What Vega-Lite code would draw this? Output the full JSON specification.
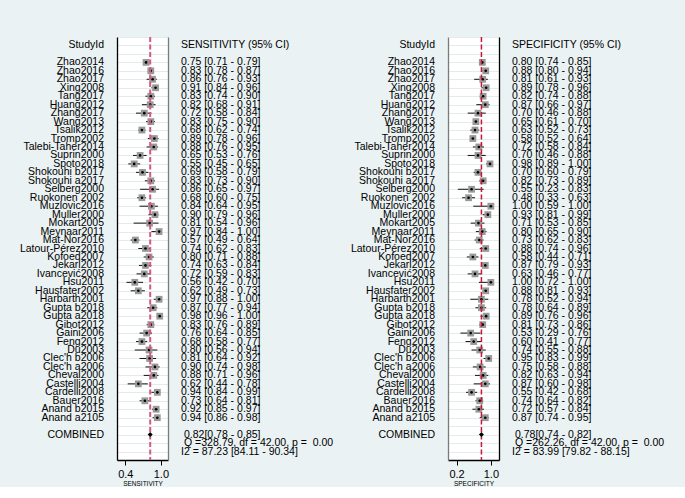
{
  "$schema": "https://vega.github.io/schema/vega-lite/v6.json",
  "background": "#eaf2f3",
  "padding": {"left": 0, "top": 35, "right": 0, "bottom": 0},
  "spacing": 13,
  "bounds": "flush",
  "config": {
    "view": {"stroke": null},
    "text": {"font": "Liberation Sans", "fontSize": 10.5, "color": "#000000"},
    "axis": {"labelFont": "Liberation Sans", "titleFont": "Liberation Sans"}
  },
  "datasets": {
    "studies": [
      {"StudyId": "Zhao2014", "sens": 0.75, "sensLo": 0.71, "sensHi": 0.79, "sensTxt": "0.75 [0.71 - 0.79]", "spec": 0.80, "specLo": 0.74, "specHi": 0.85, "specTxt": "0.80 [0.74 - 0.85]"},
      {"StudyId": "Zhao2016", "sens": 0.83, "sensLo": 0.78, "sensHi": 0.87, "sensTxt": "0.83 [0.78 - 0.87]", "spec": 0.88, "specLo": 0.80, "specHi": 0.94, "specTxt": "0.88 [0.80 - 0.94]"},
      {"StudyId": "Zhao2017", "sens": 0.86, "sensLo": 0.76, "sensHi": 0.93, "sensTxt": "0.86 [0.76 - 0.93]", "spec": 0.81, "specLo": 0.61, "specHi": 0.93, "specTxt": "0.81 [0.61 - 0.93]"},
      {"StudyId": "Xing2008", "sens": 0.91, "sensLo": 0.84, "sensHi": 0.96, "sensTxt": "0.91 [0.84 - 0.96]", "spec": 0.89, "specLo": 0.78, "specHi": 0.96, "specTxt": "0.89 [0.78 - 0.96]"},
      {"StudyId": "Tang2017", "sens": 0.83, "sensLo": 0.74, "sensHi": 0.90, "sensTxt": "0.83 [0.74 - 0.90]", "spec": 0.82, "specLo": 0.74, "specHi": 0.88, "specTxt": "0.82 [0.74 - 0.88]"},
      {"StudyId": "Huang2012", "sens": 0.82, "sensLo": 0.68, "sensHi": 0.91, "sensTxt": "0.82 [0.68 - 0.91]", "spec": 0.87, "specLo": 0.66, "specHi": 0.97, "specTxt": "0.87 [0.66 - 0.97]"},
      {"StudyId": "Zhang2017", "sens": 0.72, "sensLo": 0.58, "sensHi": 0.84, "sensTxt": "0.72 [0.58 - 0.84]", "spec": 0.70, "specLo": 0.46, "specHi": 0.88, "specTxt": "0.70 [0.46 - 0.88]"},
      {"StudyId": "Wang2013", "sens": 0.83, "sensLo": 0.75, "sensHi": 0.90, "sensTxt": "0.83 [0.75 - 0.90]", "spec": 0.65, "specLo": 0.61, "specHi": 0.70, "specTxt": "0.65 [0.61 - 0.70]"},
      {"StudyId": "Tsalik2012", "sens": 0.68, "sensLo": 0.62, "sensHi": 0.74, "sensTxt": "0.68 [0.62 - 0.74]", "spec": 0.63, "specLo": 0.52, "specHi": 0.73, "specTxt": "0.63 [0.52 - 0.73]"},
      {"StudyId": "Tromp2002", "sens": 0.89, "sensLo": 0.78, "sensHi": 0.96, "sensTxt": "0.89 [0.78 - 0.96]", "spec": 0.58, "specLo": 0.52, "specHi": 0.64, "specTxt": "0.58 [0.52 - 0.64]"},
      {"StudyId": "Talebi-Taher2014", "sens": 0.88, "sensLo": 0.76, "sensHi": 0.95, "sensTxt": "0.88 [0.76 - 0.95]", "spec": 0.72, "specLo": 0.58, "specHi": 0.84, "specTxt": "0.72 [0.58 - 0.84]"},
      {"StudyId": "Suprin2000", "sens": 0.65, "sensLo": 0.53, "sensHi": 0.76, "sensTxt": "0.65 [0.53 - 0.76]", "spec": 0.70, "specLo": 0.46, "specHi": 0.88, "specTxt": "0.70 [0.46 - 0.88]"},
      {"StudyId": "Spoto2018", "sens": 0.55, "sensLo": 0.45, "sensHi": 0.65, "sensTxt": "0.55 [0.45 - 0.65]", "spec": 0.98, "specLo": 0.89, "specHi": 1.00, "specTxt": "0.98 [0.89 - 1.00]"},
      {"StudyId": "Shokouhi b2017", "sens": 0.69, "sensLo": 0.58, "sensHi": 0.79, "sensTxt": "0.69 [0.58 - 0.79]", "spec": 0.70, "specLo": 0.60, "specHi": 0.79, "specTxt": "0.70 [0.60 - 0.79]"},
      {"StudyId": "Shokouhi a2017", "sens": 0.83, "sensLo": 0.73, "sensHi": 0.90, "sensTxt": "0.83 [0.73 - 0.90]", "spec": 0.82, "specLo": 0.73, "specHi": 0.89, "specTxt": "0.82 [0.73 - 0.89]"},
      {"StudyId": "Selberg2000", "sens": 0.86, "sensLo": 0.65, "sensHi": 0.97, "sensTxt": "0.86 [0.65 - 0.97]", "spec": 0.55, "specLo": 0.23, "specHi": 0.83, "specTxt": "0.55 [0.23 - 0.83]"},
      {"StudyId": "Ruokonen 2002", "sens": 0.68, "sensLo": 0.60, "sensHi": 0.75, "sensTxt": "0.68 [0.60 - 0.75]", "spec": 0.48, "specLo": 0.33, "specHi": 0.63, "specTxt": "0.48 [0.33 - 0.63]"},
      {"StudyId": "Muzlovic2016", "sens": 0.84, "sensLo": 0.64, "sensHi": 0.95, "sensTxt": "0.84 [0.64 - 0.95]", "spec": 1.00, "specLo": 0.59, "specHi": 1.00, "specTxt": "1.00 [0.59 - 1.00]"},
      {"StudyId": "Muller2000", "sens": 0.90, "sensLo": 0.79, "sensHi": 0.96, "sensTxt": "0.90 [0.79 - 0.96]", "spec": 0.93, "specLo": 0.81, "specHi": 0.99, "specTxt": "0.93 [0.81 - 0.99]"},
      {"StudyId": "Mokart2005", "sens": 0.81, "sensLo": 0.54, "sensHi": 0.96, "sensTxt": "0.81 [0.54 - 0.96]", "spec": 0.71, "specLo": 0.53, "specHi": 0.85, "specTxt": "0.71 [0.53 - 0.85]"},
      {"StudyId": "Meynaar2011", "sens": 0.97, "sensLo": 0.84, "sensHi": 1.00, "sensTxt": "0.97 [0.84 - 1.00]", "spec": 0.80, "specLo": 0.65, "specHi": 0.90, "specTxt": "0.80 [0.65 - 0.90]"},
      {"StudyId": "Mat-Nor2016", "sens": 0.57, "sensLo": 0.49, "sensHi": 0.64, "sensTxt": "0.57 [0.49 - 0.64]", "spec": 0.73, "specLo": 0.62, "specHi": 0.83, "specTxt": "0.73 [0.62 - 0.83]"},
      {"StudyId": "Latour-Pérez2010", "sens": 0.74, "sensLo": 0.62, "sensHi": 0.83, "sensTxt": "0.74 [0.62 - 0.83]", "spec": 0.88, "specLo": 0.74, "specHi": 0.96, "specTxt": "0.88 [0.74 - 0.96]"},
      {"StudyId": "Kofoed2007", "sens": 0.80, "sensLo": 0.71, "sensHi": 0.88, "sensTxt": "0.80 [0.71 - 0.88]", "spec": 0.58, "specLo": 0.44, "specHi": 0.71, "specTxt": "0.58 [0.44 - 0.71]"},
      {"StudyId": "Jekarl2012", "sens": 0.74, "sensLo": 0.63, "sensHi": 0.84, "sensTxt": "0.74 [0.63 - 0.84]", "spec": 0.87, "specLo": 0.79, "specHi": 0.93, "specTxt": "0.87 [0.79 - 0.93]"},
      {"StudyId": "Ivancević2008", "sens": 0.72, "sensLo": 0.59, "sensHi": 0.83, "sensTxt": "0.72 [0.59 - 0.83]", "spec": 0.63, "specLo": 0.46, "specHi": 0.77, "specTxt": "0.63 [0.46 - 0.77]"},
      {"StudyId": "Hsu2011", "sens": 0.56, "sensLo": 0.42, "sensHi": 0.70, "sensTxt": "0.56 [0.42 - 0.70]", "spec": 1.00, "specLo": 0.72, "specHi": 1.00, "specTxt": "1.00 [0.72 - 1.00]"},
      {"StudyId": "Hausfater2002", "sens": 0.62, "sensLo": 0.49, "sensHi": 0.73, "sensTxt": "0.62 [0.49 - 0.73]", "spec": 0.88, "specLo": 0.81, "specHi": 0.93, "specTxt": "0.88 [0.81 - 0.93]"},
      {"StudyId": "Harbarth2001", "sens": 0.97, "sensLo": 0.88, "sensHi": 1.00, "sensTxt": "0.97 [0.88 - 1.00]", "spec": 0.78, "specLo": 0.52, "specHi": 0.94, "specTxt": "0.78 [0.52 - 0.94]"},
      {"StudyId": "Gupta b2018", "sens": 0.87, "sensLo": 0.77, "sensHi": 0.94, "sensTxt": "0.87 [0.77 - 0.94]", "spec": 0.78, "specLo": 0.64, "specHi": 0.89, "specTxt": "0.78 [0.64 - 0.89]"},
      {"StudyId": "Gupta a2018", "sens": 0.98, "sensLo": 0.96, "sensHi": 1.00, "sensTxt": "0.98 [0.96 - 1.00]", "spec": 0.89, "specLo": 0.76, "specHi": 0.96, "specTxt": "0.89 [0.76 - 0.96]"},
      {"StudyId": "Gibot2012", "sens": 0.83, "sensLo": 0.76, "sensHi": 0.89, "sensTxt": "0.83 [0.76 - 0.89]", "spec": 0.81, "specLo": 0.73, "specHi": 0.86, "specTxt": "0.81 [0.73 - 0.86]"},
      {"StudyId": "Gaini2006", "sens": 0.76, "sensLo": 0.64, "sensHi": 0.85, "sensTxt": "0.76 [0.64 - 0.85]", "spec": 0.53, "specLo": 0.29, "specHi": 0.76, "specTxt": "0.53 [0.29 - 0.76]"},
      {"StudyId": "Feng2012", "sens": 0.68, "sensLo": 0.58, "sensHi": 0.77, "sensTxt": "0.68 [0.58 - 0.77]", "spec": 0.60, "specLo": 0.41, "specHi": 0.77, "specTxt": "0.60 [0.41 - 0.77]"},
      {"StudyId": "Du2003", "sens": 0.80, "sensLo": 0.56, "sensHi": 0.94, "sensTxt": "0.80 [0.56 - 0.94]", "spec": 0.74, "specLo": 0.55, "specHi": 0.88, "specTxt": "0.74 [0.55 - 0.88]"},
      {"StudyId": "Clec'h b2006", "sens": 0.81, "sensLo": 0.64, "sensHi": 0.92, "sensTxt": "0.81 [0.64 - 0.92]", "spec": 0.95, "specLo": 0.83, "specHi": 0.99, "specTxt": "0.95 [0.83 - 0.99]"},
      {"StudyId": "Clec'h a2006", "sens": 0.90, "sensLo": 0.74, "sensHi": 0.98, "sensTxt": "0.90 [0.74 - 0.98]", "spec": 0.75, "specLo": 0.58, "specHi": 0.88, "specTxt": "0.75 [0.58 - 0.88]"},
      {"StudyId": "Cheval2000", "sens": 0.88, "sensLo": 0.71, "sensHi": 0.96, "sensTxt": "0.88 [0.71 - 0.96]", "spec": 0.82, "specLo": 0.63, "specHi": 0.94, "specTxt": "0.82 [0.63 - 0.94]"},
      {"StudyId": "Castelli2004", "sens": 0.62, "sensLo": 0.44, "sensHi": 0.78, "sensTxt": "0.62 [0.44 - 0.78]", "spec": 0.87, "specLo": 0.60, "specHi": 0.98, "specTxt": "0.87 [0.60 - 0.98]"},
      {"StudyId": "Cardelli2008", "sens": 0.94, "sensLo": 0.84, "sensHi": 0.99, "sensTxt": "0.94 [0.84 - 0.99]", "spec": 0.55, "specLo": 0.42, "specHi": 0.68, "specTxt": "0.55 [0.42 - 0.68]"},
      {"StudyId": "Bauer2016", "sens": 0.73, "sensLo": 0.64, "sensHi": 0.81, "sensTxt": "0.73 [0.64 - 0.81]", "spec": 0.74, "specLo": 0.64, "specHi": 0.82, "specTxt": "0.74 [0.64 - 0.82]"},
      {"StudyId": "Anand b2015", "sens": 0.92, "sensLo": 0.85, "sensHi": 0.97, "sensTxt": "0.92 [0.85 - 0.97]", "spec": 0.72, "specLo": 0.57, "specHi": 0.84, "specTxt": "0.72 [0.57 - 0.84]"},
      {"StudyId": "Anand a2105", "sens": 0.94, "sensLo": 0.86, "sensHi": 0.98, "sensTxt": "0.94 [0.86 - 0.98]", "spec": 0.87, "specLo": 0.74, "specHi": 0.95, "specTxt": "0.87 [0.74 - 0.95]"}
    ],
    "extra": [
      {"StudyId": "StudyId", "left": "StudyId", "sensTxt": "SENSITIVITY (95% CI)", "specTxt": "SPECIFICITY (95% CI)", "indent": 0},
      {"StudyId": "COMBINED", "left": "COMBINED", "sensTxt": "0.82[0.78 - 0.85]", "specTxt": "0.78[0.74 - 0.82]", "indent": 1},
      {"StudyId": "Q", "left": "", "sensTxt": "Q =328.79, df = 42.00, p = \u00a00.00", "specTxt": "Q =262.26, df = 42.00, p = \u00a00.00", "indent": 1},
      {"StudyId": "I2", "left": "", "sensTxt": "I2 = 87.23 [84.11 - 90.34]", "specTxt": "I2 = 83.99 [79.82 - 88.15]", "indent": 0}
    ],
    "pooled": [
      {"StudyId": "COMBINED", "sens": 0.82, "sensLo": 0.78, "sensHi": 0.85, "spec": 0.78, "specLo": 0.74, "specHi": 0.82}
    ]
  },
  "resolve": {"scale": {"x": "independent", "y": "independent"}},
  "hconcat": [
    {
      "width": 104, "height": 423,
      "encoding": {"y": {"field": "StudyId", "type": "nominal", "axis": null, "scale": {"type": "point", "padding": 0, "domain": ["_top","StudyId","_gap1","Zhao2014","Zhao2016","Zhao2017","Xing2008","Tang2017","Huang2012","Zhang2017","Wang2013","Tsalik2012","Tromp2002","Talebi-Taher2014","Suprin2000","Spoto2018","Shokouhi b2017","Shokouhi a2017","Selberg2000","Ruokonen 2002","Muzlovic2016","Muller2000","Mokart2005","Meynaar2011","Mat-Nor2016","Latour-Pérez2010","Kofoed2007","Jekarl2012","Ivancević2008","Hsu2011","Hausfater2002","Harbarth2001","Gupta b2018","Gupta a2018","Gibot2012","Gaini2006","Feng2012","Du2003","Clec'h b2006","Clec'h a2006","Cheval2000","Castelli2004","Cardelli2008","Bauer2016","Anand b2015","Anand a2105","_gap2","COMBINED","Q","I2","_bottom"]}}},
      "layer": [
        {"data": {"name": "studies"}, "mark": {"type": "text", "align": "right", "baseline": "middle"}, "encoding": {"x": {"value": "width"}, "text": {"field": "StudyId"}}},
        {"data": {"name": "extra"}, "mark": {"type": "text", "align": "right", "baseline": "middle"}, "encoding": {"x": {"value": "width"}, "text": {"field": "left"}}}
      ]
    },
    {
      "width": 51, "height": 423,
      "view": {"fill": "white", "stroke": null},
      "resolve": {"axis": {"y": "independent"}},
      "encoding": {"y": {"field": "StudyId", "type": "nominal", "axis": null, "scale": {"type": "point", "padding": 0, "domain": ["_top","StudyId","_gap1","Zhao2014","Zhao2016","Zhao2017","Xing2008","Tang2017","Huang2012","Zhang2017","Wang2013","Tsalik2012","Tromp2002","Talebi-Taher2014","Suprin2000","Spoto2018","Shokouhi b2017","Shokouhi a2017","Selberg2000","Ruokonen 2002","Muzlovic2016","Muller2000","Mokart2005","Meynaar2011","Mat-Nor2016","Latour-Pérez2010","Kofoed2007","Jekarl2012","Ivancević2008","Hsu2011","Hausfater2002","Harbarth2001","Gupta b2018","Gupta a2018","Gibot2012","Gaini2006","Feng2012","Du2003","Clec'h b2006","Clec'h a2006","Cheval2000","Castelli2004","Cardelli2008","Bauer2016","Anand b2015","Anand a2105","_gap2","COMBINED","Q","I2","_bottom"]}}},
      "layer": [
        {"data": {"name": "studies"}, "mark": {"type": "rule", "color": "#111111", "strokeWidth": 1},
         "encoding": {
           "y": {"field": "StudyId", "type": "nominal", "axis": {"orient": "left", "labels": false, "ticks": false, "title": null, "grid": true, "gridColor": "#e2ebed", "gridWidth": 1, "domainColor": "#000000", "domainWidth": 1.3}},
           "x": {"field": "sensLo", "type": "quantitative", "scale": {"domain": [0.26, 1.12], "nice": false, "zero": false},
                 "axis": {"values": [0.4, 1.0], "format": ".1f", "title": "SENSITIVITY", "titleFontSize": 6.5, "titleFontWeight": "normal", "titleColor": "#000000", "labelFontSize": 11, "labelColor": "#000000", "tickColor": "#000000", "domainColor": "#000000", "domainWidth": 1.3, "tickSize": 5, "labelPadding": 3, "titlePadding": 1, "grid": false, "labelFlush": false, "labelOverlap": false}},
           "x2": {"field": "sensHi"}}},
        {"data": {"name": "studies"}, "mark": {"type": "point", "shape": "square", "filled": true, "color": "#999999", "size": 46, "opacity": 1}, "encoding": {"x": {"field": "sens", "type": "quantitative"}}},
        {"data": {"name": "studies"}, "mark": {"type": "circle", "color": "#000000", "size": 7, "opacity": 1}, "encoding": {"x": {"field": "sens", "type": "quantitative"}}},
        {"data": {"name": "pooled"}, "mark": {"type": "rule", "color": "#d6587f", "strokeWidth": 2, "strokeDash": [5, 2.5]}, "encoding": {"x": {"field": "sens", "type": "quantitative"}, "y": {"datum": "_top", "type": "nominal", "axis": null}, "y2": {"datum": "_bottom"}}},
        {"data": {"name": "pooled"}, "mark": {"type": "point", "shape": "diamond", "filled": true, "color": "#000000", "size": 25, "opacity": 1},
         "encoding": {"x": {"field": "sens", "type": "quantitative"},
           "y": {"field": "StudyId", "type": "nominal", "axis": {"orient": "right", "labels": false, "ticks": false, "title": null, "grid": false, "domainColor": "#7a7a7a", "domainWidth": 1.3}}}}
      ]
    },
    {
      "width": 150, "height": 423,
      "encoding": {"y": {"field": "StudyId", "type": "nominal", "axis": null, "scale": {"type": "point", "padding": 0, "domain": ["_top","StudyId","_gap1","Zhao2014","Zhao2016","Zhao2017","Xing2008","Tang2017","Huang2012","Zhang2017","Wang2013","Tsalik2012","Tromp2002","Talebi-Taher2014","Suprin2000","Spoto2018","Shokouhi b2017","Shokouhi a2017","Selberg2000","Ruokonen 2002","Muzlovic2016","Muller2000","Mokart2005","Meynaar2011","Mat-Nor2016","Latour-Pérez2010","Kofoed2007","Jekarl2012","Ivancević2008","Hsu2011","Hausfater2002","Harbarth2001","Gupta b2018","Gupta a2018","Gibot2012","Gaini2006","Feng2012","Du2003","Clec'h b2006","Clec'h a2006","Cheval2000","Castelli2004","Cardelli2008","Bauer2016","Anand b2015","Anand a2105","_gap2","COMBINED","Q","I2","_bottom"]}}},
      "layer": [
        {"data": {"name": "studies"}, "mark": {"type": "text", "align": "left", "baseline": "middle"}, "encoding": {"x": {"value": 0}, "text": {"field": "sensTxt"}}},
        {"data": {"name": "extra"}, "transform": [{"filter": "datum.indent == 0"}], "mark": {"type": "text", "align": "left", "baseline": "middle"}, "encoding": {"x": {"value": 0}, "text": {"field": "sensTxt"}}},
        {"data": {"name": "extra"}, "transform": [{"filter": "datum.indent == 1"}], "mark": {"type": "text", "align": "left", "baseline": "middle", "dx": 3}, "encoding": {"x": {"value": 0}, "text": {"field": "sensTxt"}}}
      ]
    },
    {
      "width": 91, "height": 423,
      "encoding": {"y": {"field": "StudyId", "type": "nominal", "axis": null, "scale": {"type": "point", "padding": 0, "domain": ["_top","StudyId","_gap1","Zhao2014","Zhao2016","Zhao2017","Xing2008","Tang2017","Huang2012","Zhang2017","Wang2013","Tsalik2012","Tromp2002","Talebi-Taher2014","Suprin2000","Spoto2018","Shokouhi b2017","Shokouhi a2017","Selberg2000","Ruokonen 2002","Muzlovic2016","Muller2000","Mokart2005","Meynaar2011","Mat-Nor2016","Latour-Pérez2010","Kofoed2007","Jekarl2012","Ivancević2008","Hsu2011","Hausfater2002","Harbarth2001","Gupta b2018","Gupta a2018","Gibot2012","Gaini2006","Feng2012","Du2003","Clec'h b2006","Clec'h a2006","Cheval2000","Castelli2004","Cardelli2008","Bauer2016","Anand b2015","Anand a2105","_gap2","COMBINED","Q","I2","_bottom"]}}},
      "layer": [
        {"data": {"name": "studies"}, "mark": {"type": "text", "align": "right", "baseline": "middle"}, "encoding": {"x": {"value": "width"}, "text": {"field": "StudyId"}}},
        {"data": {"name": "extra"}, "mark": {"type": "text", "align": "right", "baseline": "middle"}, "encoding": {"x": {"value": "width"}, "text": {"field": "left"}}}
      ]
    },
    {
      "width": 51, "height": 423,
      "view": {"fill": "white", "stroke": null},
      "resolve": {"axis": {"y": "independent"}},
      "encoding": {"y": {"field": "StudyId", "type": "nominal", "axis": null, "scale": {"type": "point", "padding": 0, "domain": ["_top","StudyId","_gap1","Zhao2014","Zhao2016","Zhao2017","Xing2008","Tang2017","Huang2012","Zhang2017","Wang2013","Tsalik2012","Tromp2002","Talebi-Taher2014","Suprin2000","Spoto2018","Shokouhi b2017","Shokouhi a2017","Selberg2000","Ruokonen 2002","Muzlovic2016","Muller2000","Mokart2005","Meynaar2011","Mat-Nor2016","Latour-Pérez2010","Kofoed2007","Jekarl2012","Ivancević2008","Hsu2011","Hausfater2002","Harbarth2001","Gupta b2018","Gupta a2018","Gibot2012","Gaini2006","Feng2012","Du2003","Clec'h b2006","Clec'h a2006","Cheval2000","Castelli2004","Cardelli2008","Bauer2016","Anand b2015","Anand a2105","_gap2","COMBINED","Q","I2","_bottom"]}}},
      "layer": [
        {"data": {"name": "studies"}, "mark": {"type": "rule", "color": "#111111", "strokeWidth": 1},
         "encoding": {
           "y": {"field": "StudyId", "type": "nominal", "axis": {"orient": "left", "labels": false, "ticks": false, "title": null, "grid": true, "gridColor": "#e2ebed", "gridWidth": 1, "domainColor": "#7a7a7a", "domainWidth": 1.3}},
           "x": {"field": "specLo", "type": "quantitative", "scale": {"domain": [0.0, 1.19], "nice": false, "zero": false},
                 "axis": {"values": [0.2, 1.0], "format": ".1f", "title": "SPECIFICITY", "titleFontSize": 6.5, "titleFontWeight": "normal", "titleColor": "#000000", "labelFontSize": 11, "labelColor": "#000000", "tickColor": "#000000", "domainColor": "#000000", "domainWidth": 1.3, "tickSize": 5, "labelPadding": 3, "titlePadding": 1, "grid": false, "labelFlush": false, "labelOverlap": false}},
           "x2": {"field": "specHi"}}},
        {"data": {"name": "studies"}, "mark": {"type": "point", "shape": "square", "filled": true, "color": "#999999", "size": 46, "opacity": 1}, "encoding": {"x": {"field": "spec", "type": "quantitative"}}},
        {"data": {"name": "studies"}, "mark": {"type": "circle", "color": "#000000", "size": 7, "opacity": 1}, "encoding": {"x": {"field": "spec", "type": "quantitative"}}},
        {"data": {"name": "pooled"}, "mark": {"type": "rule", "color": "#c8153a", "strokeWidth": 1.5, "strokeDash": [5, 2.5]}, "encoding": {"x": {"field": "spec", "type": "quantitative"}, "y": {"datum": "_top", "type": "nominal", "axis": null}, "y2": {"datum": "_bottom"}}},
        {"data": {"name": "pooled"}, "mark": {"type": "point", "shape": "diamond", "filled": true, "color": "#000000", "size": 25, "opacity": 1},
         "encoding": {"x": {"field": "spec", "type": "quantitative"},
           "y": {"field": "StudyId", "type": "nominal", "axis": {"orient": "right", "labels": false, "ticks": false, "title": null, "grid": false, "domainColor": "#000000", "domainWidth": 1.3}}}}
      ]
    },
    {
      "width": 173, "height": 423,
      "encoding": {"y": {"field": "StudyId", "type": "nominal", "axis": null, "scale": {"type": "point", "padding": 0, "domain": ["_top","StudyId","_gap1","Zhao2014","Zhao2016","Zhao2017","Xing2008","Tang2017","Huang2012","Zhang2017","Wang2013","Tsalik2012","Tromp2002","Talebi-Taher2014","Suprin2000","Spoto2018","Shokouhi b2017","Shokouhi a2017","Selberg2000","Ruokonen 2002","Muzlovic2016","Muller2000","Mokart2005","Meynaar2011","Mat-Nor2016","Latour-Pérez2010","Kofoed2007","Jekarl2012","Ivancević2008","Hsu2011","Hausfater2002","Harbarth2001","Gupta b2018","Gupta a2018","Gibot2012","Gaini2006","Feng2012","Du2003","Clec'h b2006","Clec'h a2006","Cheval2000","Castelli2004","Cardelli2008","Bauer2016","Anand b2015","Anand a2105","_gap2","COMBINED","Q","I2","_bottom"]}}},
      "layer": [
        {"data": {"name": "studies"}, "mark": {"type": "text", "align": "left", "baseline": "middle"}, "encoding": {"x": {"value": 0}, "text": {"field": "specTxt"}}},
        {"data": {"name": "extra"}, "transform": [{"filter": "datum.indent == 0"}], "mark": {"type": "text", "align": "left", "baseline": "middle"}, "encoding": {"x": {"value": 0}, "text": {"field": "specTxt"}}},
        {"data": {"name": "extra"}, "transform": [{"filter": "datum.indent == 1"}], "mark": {"type": "text", "align": "left", "baseline": "middle", "dx": 3}, "encoding": {"x": {"value": 0}, "text": {"field": "specTxt"}}}
      ]
    }
  ]
}
